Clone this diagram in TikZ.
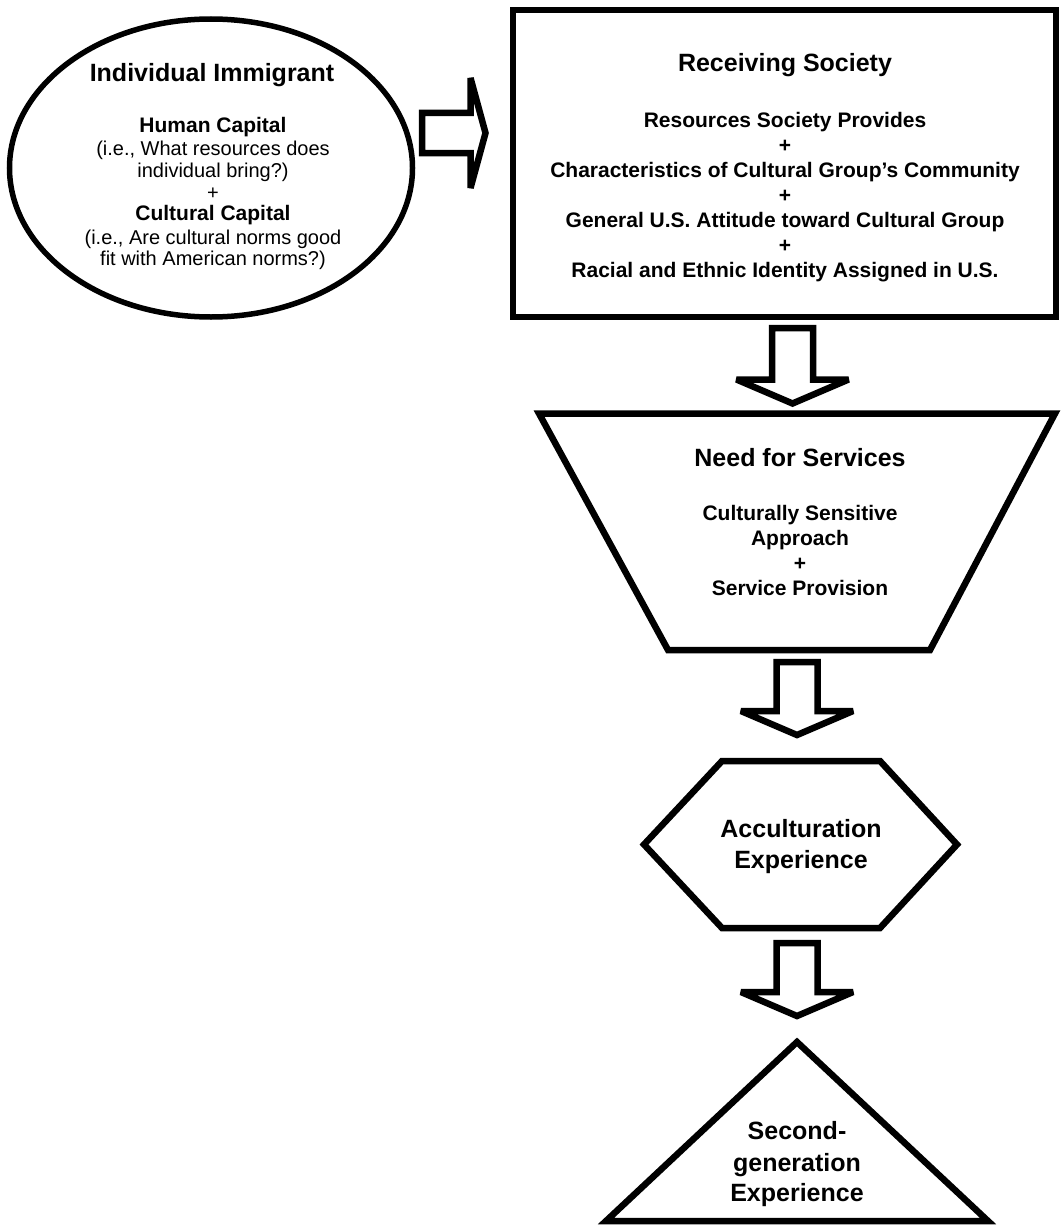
\documentclass[tikz,border=0pt]{standalone}
\usepackage{fontspec}
\setmainfont{Liberation Sans}
\usetikzlibrary{calc,shapes.geometric}
\tikzset{
  shapeline/.style={draw=black, line width=6.5pt, line join=miter, outer sep=0pt, inner sep=0pt},
  blockarr/.style={draw=black, line width=6.5pt, line join=miter, miter limit=3, fill=white},
  ttl/.style={font=\fontsize{25}{30}\selectfont\bfseries, inner sep=0pt, anchor=base},
  bod/.style={font=\fontsize{21}{25}\selectfont\bfseries, inner sep=0pt, anchor=base},
  reg/.style={font=\fontsize{20}{24}\selectfont, inner sep=0pt, anchor=base},
}
\newcommand\blkdown[2]{%
  \draw[blockarr] ($(#1)+(-20.5,0)$) -- ($(#1)+(20.5,0)$) -- ($(#2)+(20.5,-24)$)
    -- ($(#2)+(56,-24)$) -- (#2) -- ($(#2)+(-56,-24)$) -- ($(#2)+(-20.5,-24)$) -- cycle;}
\begin{document}
\begin{tikzpicture}[x=1pt,y=-1pt]
\useasboundingbox[fill=white] (0,0) rectangle (1061,1228);

% Individual Immigrant
\node[ellipse, draw=black, line width=5.5pt, outer sep=0pt, inner sep=0pt,
      minimum width=403, minimum height=298] (imm) at (211,168) {};
\node[ttl] (immT) at (212,82) {Individual Immigrant};
\node[bod] (immH) at (213,132.5) {Human Capital};
\node[reg] (immH1) at (213,155) {(i.e., What resources does};
\node[reg] (immH2) at (213,177) {individual bring?)};
\node[reg] (immP) at (213,199) {+};
\node[bod] (immC) at (213,220.5) {Cultural Capital};
\node[reg] (immC1) at (213,244) {(i.e., Are cultural norms good};
\node[reg] (immC2) at (213,265) {fit with American norms?)};

% Receiving Society
\node[rectangle, shapeline, minimum width=543, minimum height=307] (recv) at (784.5,163.5) {};
\node[ttl] (recvT) at (785,72) {Receiving Society};
\node[bod] (recv1) at (785,127.5) {Resources Society Provides};
\node[bod] (recvP1) at (785,152.5) {+};
\node[bod] (recv2) at (785,177.5) {Characteristics of Cultural Group’s Community};
\node[bod] (recvP2) at (785,202.5) {+};
\node[bod] (recv3) at (785,227.5) {General U.S. Attitude toward Cultural Group};
\node[bod] (recvP3) at (785,252.5) {+};
\node[bod] (recv4) at (785,277.5) {Racial and Ethnic Identity Assigned in U.S.};

% Need for Services
\draw[shapeline] (539,413.5) -- (1055,413.5) -- (930,650) -- (668,650) -- cycle;
\coordinate (needTop) at (797,413.5);
\coordinate (needBot) at (797,650);
\node[ttl] (needT) at (800,466) {Need for Services};
\node[bod] (need1) at (800,520.5) {Culturally Sensitive};
\node[bod] (need2) at (800,545.5) {Approach};
\node[bod] (needP) at (800,570.5) {+};
\node[bod] (need3) at (800,595.5) {Service Provision};

% Acculturation Experience
\draw[shapeline] (722,761) -- (880,761) -- (957,844.5) -- (880,928) -- (722,928) -- (644,844.5) -- cycle;
\coordinate (accTop) at (797,761);
\coordinate (accBot) at (797,928);
\node[ttl] (acc1) at (801,837) {Acculturation};
\node[ttl] (acc2) at (801,868) {Experience};

% Second-generation Experience
\draw[shapeline] (797,1042) -- (988,1221) -- (606,1221) -- cycle;
\coordinate (secTop) at (797,1042);
\node[ttl] (sec1) at (797,1139) {Second-};
\node[ttl] (sec2) at (797,1171) {generation};
\node[ttl] (sec3) at (797,1201) {Experience};

% Right block arrow
\coordinate (ras) at ($(imm.east)+(9.5,-35)$);
\coordinate (rae) at ($(recv.west)+(-27.5,-30.5)$);
\draw[blockarr] ($(ras)+(0,-20)$) -- ($(rae)+(-15,-20)$) -- ($(rae)+(-15,-55)$) -- (rae)
  -- ($(rae)+(-15,55)$) -- ($(rae)+(-15,20)$) -- ($(ras)+(0,20)$) -- cycle;

% Down block arrows
\coordinate (d1s) at ($(recv.south)+(8,11)$);
\coordinate (d1e) at ($(needTop)+(-4.5,-10)$);
\blkdown{d1s}{d1e}
\coordinate (d2s) at ($(needBot)+(0,12)$);
\coordinate (d2e) at ($(accTop)+(0,-26)$);
\blkdown{d2s}{d2e}
\coordinate (d3s) at ($(accBot)+(0,15)$);
\coordinate (d3e) at ($(secTop)+(0,-26)$);
\blkdown{d3s}{d3e}
\end{tikzpicture}
\end{document}
